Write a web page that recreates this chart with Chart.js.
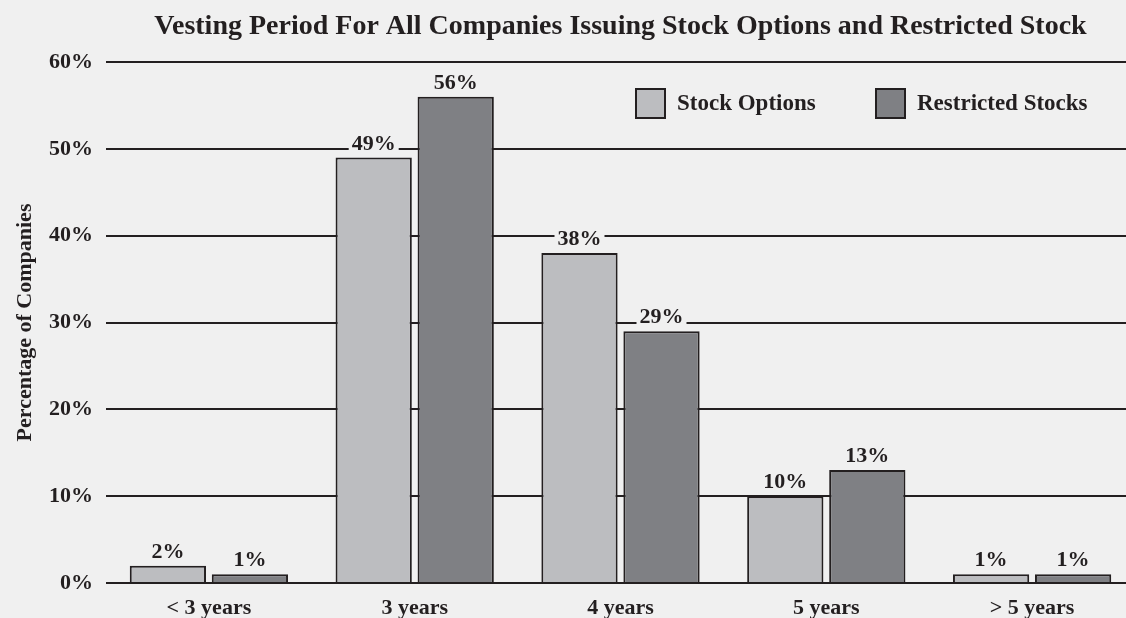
<!DOCTYPE html>
<html>
<head>
<meta charset="utf-8">
<script src="https://cdn.jsdelivr.net/npm/chart.js@4"></script>
<style>
  html, body { margin: 0; padding: 0; background: #f0f0f0; overflow: hidden; }
  #wrap { width: 1135px; height: 618px; }
</style>
</head>
<body>
<div id="wrap"><canvas id="theChart" width="1135" height="618"></canvas></div>
<script>
// values
var categories = ['< 3 years', '3 years', '4 years', '5 years', '> 5 years'];
var stockOptions = [2, 49, 38, 10, 1];
var restrictedStocks = [1, 56, 29, 13, 1];
var seriesNames = ['Stock Options', 'Restricted Stocks'];
var yTicks = [0, 10, 20, 30, 40, 50, 60];

var FONT = '"Liberation Serif", "DejaVu Serif", serif';
var INK = '#231f20';
var PAPER = '#f0f0f0';

// percent labels on top of each bar, with a paper patch behind so grid lines break
var barLabels = {
    id: 'barLabels',
    afterDatasetsDraw: function (chart) {
        var ctx = chart.ctx;
        ctx.save();
        ctx.font = 'bold 22px ' + FONT;
        ctx.textAlign = 'center';
        ctx.textBaseline = 'alphabetic';
        chart.data.datasets.forEach(function (ds, i) {
            chart.getDatasetMeta(i).data.forEach(function (bar, j) {
                var txt = ds.data[j] + '%';
                var w = ctx.measureText(txt).width;
                var base = bar.y - 8;
                ctx.fillStyle = PAPER;
                ctx.fillRect(bar.x - w / 2 - 3, base - 17, w + 6, 20);
                ctx.fillStyle = INK;
                ctx.fillText(txt, bar.x, base);
            });
        });
        ctx.restore();
    }
};

// legend drawn inside the plot, top right
var insideLegend = {
    id: 'insideLegend',
    afterDraw: function (chart) {
        var ctx = chart.ctx;
        var spots = [636, 876];
        ctx.save();
        ctx.font = 'bold 23px ' + FONT;
        ctx.textBaseline = 'middle';
        chart.data.datasets.forEach(function (ds, i) {
            var x = spots[i], y = 89;
            ctx.fillStyle = ds.backgroundColor;
            ctx.fillRect(x, y, 29, 29);
            ctx.lineWidth = 2;
            ctx.strokeStyle = INK;
            ctx.strokeRect(x, y, 29, 29);
            ctx.fillStyle = INK;
            ctx.fillText(ds.label, x + 41, y + 15);
        });
        ctx.restore();
    }
};

var ctx = document.getElementById('theChart').getContext('2d');
var chart = new Chart(ctx, {
    type: 'bar',
    data: {
        labels: categories,
        datasets: [
            { label: seriesNames[0], data: stockOptions, backgroundColor: '#bcbdc0', borderColor: INK, borderWidth: 2 },
            { label: seriesNames[1], data: restrictedStocks, backgroundColor: '#7f8084', borderColor: INK, borderWidth: 2 }
        ]
    },
    options: {
        responsive: false,
        animation: false,
        events: [],
        layout: { padding: 0 },
        datasets: { bar: { categoryPercentage: 0.797, barPercentage: 0.93 } },
        plugins: {
            legend: { display: false },
            tooltip: { enabled: false },
            title: {
                display: true,
                fullSize: false,
                text: 'Vesting Period For All Companies Issuing Stock Options and Restricted Stock',
                color: INK,
                font: { family: FONT, size: 28, weight: 'bold', lineHeight: 1 },
                padding: { top: 13, bottom: 21 }
            }
        },
        scales: {
            x: {
                grid: { display: false },
                border: { display: false },
                ticks: { color: INK, font: { family: FONT, size: 22, weight: 'bold', lineHeight: 1 }, padding: 6, maxRotation: 0 },
                afterFit: function (s) { s.height = 35; }
            },
            y: {
                min: 0,
                max: 60,
                afterBuildTicks: function (s) { s.ticks = yTicks.map(function (v) { return { value: v }; }); },
                grid: { color: INK, lineWidth: 2, drawTicks: false },
                border: { display: false },
                ticks: {
                    color: INK,
                    font: { family: FONT, size: 22, weight: 'bold' },
                    padding: 13,
                    callback: function (v) { return v + '%'; }
                },
                title: {
                    display: true,
                    text: 'Percentage of Companies',
                    color: INK,
                    font: { family: FONT, size: 22, weight: 'bold', lineHeight: 1 },
                    padding: { top: 14, bottom: 0 }
                },
                afterFit: function (s) { s.width = 106; }
            }
        }
    },
    plugins: [barLabels, insideLegend]
});
</script>
</body>
</html>
